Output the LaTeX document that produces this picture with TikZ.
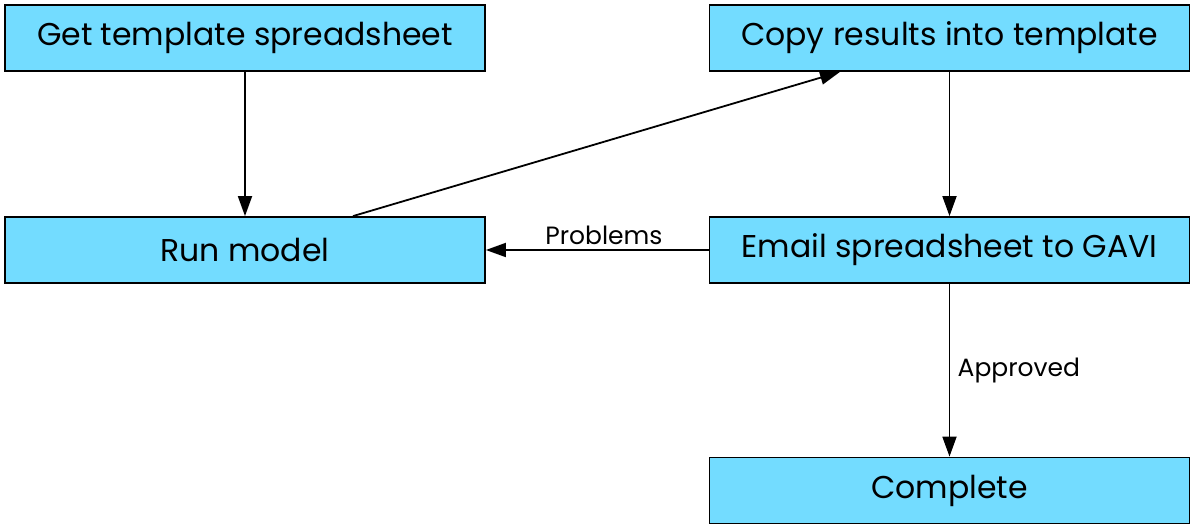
\documentclass[tikz,border=0pt]{standalone}
\usepackage{fontspec}
\setmainfont{Poppins}
\usetikzlibrary{arrows.meta}
\definecolor{boxcyan}{HTML}{73DCFF}
\tikzset{
  stepbox/.style={draw=black, line width=1.8pt, fill=boxcyan, minimum width=480pt, minimum height=66pt,
    inner sep=0pt, font=\fontsize{31.5}{34}\selectfont},
  flow/.style={draw=black, line width=1.8pt, -{Triangle[length=20pt,width=14pt]}},
  lbl/.style={font=\fontsize{25}{28}\selectfont}
}
\begin{document}
\begin{tikzpicture}[x=1pt, y=1pt]
        \useasboundingbox (0, 0) rectangle (1195, -529);
        \node[stepbox] (template) at (245, -38) {Get template spreadsheet};
        \node[stepbox] (copy) at (949.5, -38) {Copy results into template};
        \node[stepbox] (run) at (245, -250) {Run model};
        \node[stepbox] (email) at (949.5, -250) {Email spreadsheet to GAVI};
        \node[stepbox] (complete) at (949.5, -490.5) {Complete};

        \draw[flow] (template) -- (run);
        \draw[flow] (run.north -| 353, 0) -- (copy.south -| 840, 0);
        \draw[flow] (copy) -- (email);
        \draw[flow] (email) -- node[lbl, above=1pt, pos=0.47] {Problems} (run);
        \draw[flow] (email) -- node[lbl, right=4pt, pos=0.5] {Approved} (complete);
    \end{tikzpicture}
\end{document}
